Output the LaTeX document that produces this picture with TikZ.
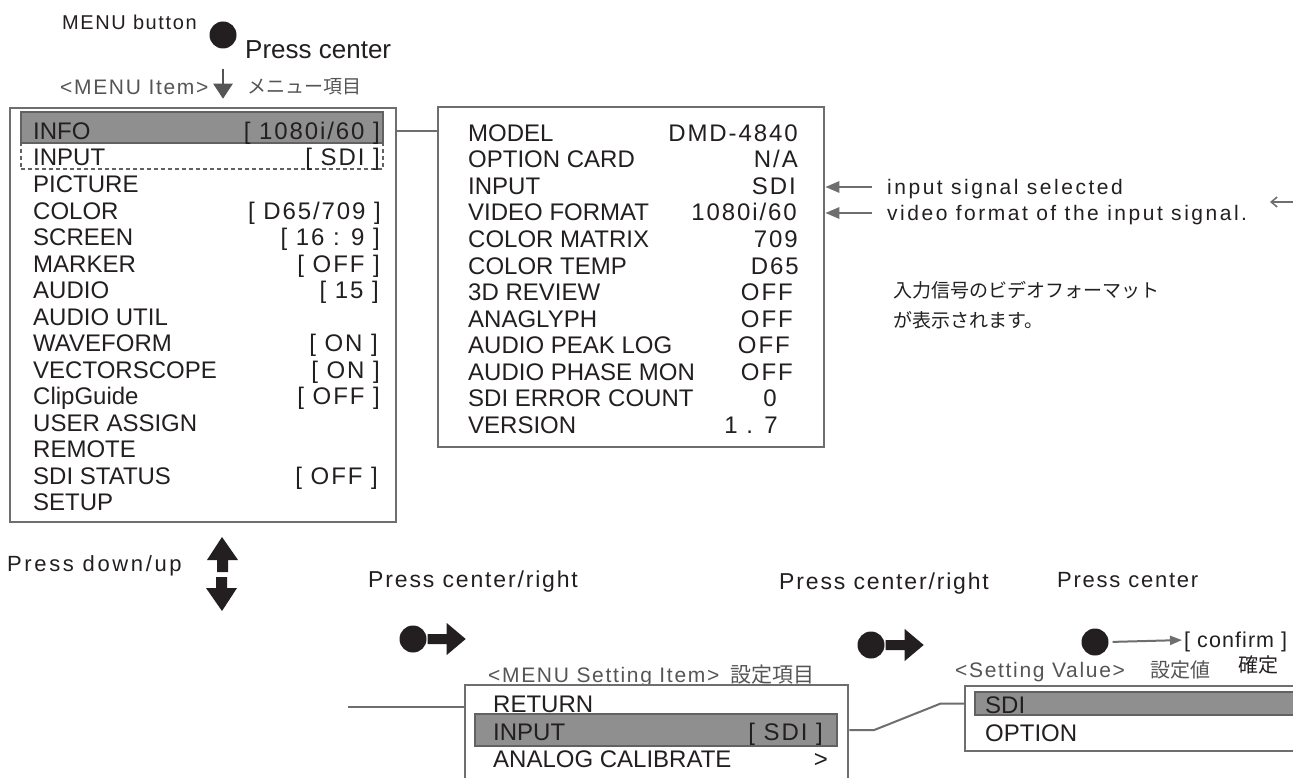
\documentclass[tikz,border=0pt]{standalone}
\usepackage{fontspec}
\setmainfont{Liberation Sans}
\newfontfamily\spaced{Liberation Sans}[LetterSpace=8]
\newfontfamily\snug{Liberation Sans}[LetterSpace=5]
\newfontfamily\wide{Liberation Sans}[LetterSpace=12]
\newfontfamily\cjk{Noto Sans CJK JP}
\usetikzlibrary{arrows.meta, positioning, calc}
\definecolor{ink}{HTML}{231F20}
\definecolor{frame}{HTML}{6E6E6E}
\definecolor{hifill}{HTML}{8F8F8F}
\definecolor{hiline}{HTML}{626262}
\definecolor{note}{HTML}{555555}
\tikzset{
  panel/.style={draw=frame, line width=2.5pt, fill=white, inner sep=0},
  hibar/.style={fill=hifill, draw=hiline, line width=1.5pt, inner sep=0},
  row/.style={anchor=west, inner sep=0, text=ink, font=\fontsize{24}{28}\selectfont, text height=17pt, text depth=0pt},
  val/.style={row, anchor=east, font=\spaced\fontsize{24}{28}\selectfont},
  lbl/.style={anchor=west, inner sep=0, text=ink, font=\spaced\fontsize{22}{26}\selectfont, text height=16pt, text depth=0pt},
  tag/.style={lbl, text=note, font=\spaced\fontsize{21}{25}\selectfont, text height=15pt},
  jp/.style={anchor=west, inner sep=0, text=ink, font=\cjk\fontsize{19}{23}\selectfont, text height=14pt, text depth=0pt},
  link/.style={draw=frame, line width=2pt},
  pointer/.style={draw=frame, line width=2.5pt, -{Triangle[length=14pt,width=11pt]}},
  knob/.style={circle, fill=ink, minimum size=27pt, inner sep=0},
}
\begin{document}
\begin{tikzpicture}[x=1pt,y=-1pt]
\clip (0,0) rectangle (1293,778);
\fill[white] (0,0) rectangle (1293,778);

\node[lbl, font=\spaced\fontsize{20}{24}\selectfont] (menubtn) at (62,22) {MENU button};
\node[knob] (k0) at (223,35) {};
\node[lbl, font=\fontsize{26}{30}\selectfont, text height=18pt] (k0txt) at (245,50) {Press center};
\node[tag] (itemtag) at (60,87) {<MENU Item>};
\node[jp, text=note] (itemjp) at (247,87) {メニュー項目};

\node[panel, minimum width=386pt, minimum height=414pt] (menu) at (203,315) {};
\draw[draw=note, fill=note, line width=2.5pt, -{Triangle[length=15pt,width=19pt]}, shorten <=20pt, shorten >=8pt] (k0.south) -- (k0.south |- menu.north);
\node[hibar, minimum width=362pt, minimum height=31pt] (hinfo) at (202,127.5) {};
\node[draw=hiline, line width=2pt, dash pattern=on 4pt off 3pt, minimum width=362pt, minimum height=26pt, inner sep=0] (dinput) at (202,156) {};

\node[row] (m1) at (33,131) {INFO};            \node[val] (v1) at (380,131) {[ 1080i/60 ]};
\node[row] (m2) at (33,157.5) {INPUT};         \node[val] (v2) at (380,157.5) {[ SDI ]};
\node[row] (m3) at (33,184) {PICTURE};
\node[row] (m4) at (33,210.5) {COLOR};         \node[val] (v4) at (381,210.5) {[ D65/709 ]};
\node[row] (m5) at (33,237) {SCREEN};          \node[val] (v5) at (380,237) {[ 16 : 9 ]};
\node[row] (m6) at (33,263.5) {MARKER};        \node[val] (v6) at (380,263.5) {[ OFF ]};
\node[row] (m7) at (33,290) {AUDIO};           \node[val] (v7) at (379,290) {[ 15 ]};
\node[row] (m8) at (33,316.5) {AUDIO UTIL};
\node[row] (m9) at (33,343) {WAVEFORM};        \node[val] (v9) at (378,343) {[ ON ]};
\node[row] (m10) at (33,369.5) {VECTORSCOPE};  \node[val] (v10) at (380,369.5) {[ ON ]};
\node[row] (m11) at (33,396) {ClipGuide};      \node[val] (v11) at (380,396) {[ OFF ]};
\node[row] (m12) at (33,422.5) {USER ASSIGN};
\node[row] (m13) at (33,449) {REMOTE};
\node[row] (m14) at (33,475.5) {SDI STATUS};   \node[val] (v14) at (378,475.5) {[ OFF ]};
\node[row] (m15) at (33,502) {SETUP};

\node[panel, minimum width=386pt, minimum height=340pt] (info) at (631,277) {};
\draw[link] (m1 -| menu.east) -- (m1 -| info.west);
\node[row] (i1) at (468,133) {MODEL};             \node[val] (w1) at (798,133) {DMD-4840};
\node[row] (i2) at (468,159.5) {OPTION CARD};     \node[val] (w2) at (798,159.5) {N/A};
\node[row] (i3) at (468,186) {INPUT};             \node[val] (w3) at (796,186) {SDI};
\node[row] (i4) at (468,212.5) {VIDEO FORMAT};    \node[val] (w4) at (797,212.5) {1080i/60};
\node[row] (i5) at (468,239) {COLOR MATRIX};      \node[val] (w5) at (798,239) {709};
\node[row] (i6) at (468,265.5) {COLOR TEMP};      \node[val] (w6) at (799,265.5) {D65};
\node[row] (i7) at (468,292) {3D REVIEW};         \node[val] (w7) at (793,292) {OFF};
\node[row] (i8) at (468,318.5) {ANAGLYPH};        \node[val] (w8) at (793,318.5) {OFF};
\node[row] (i9) at (468,345) {AUDIO PEAK LOG};    \node[val] (w9) at (790,345) {OFF};
\node[row] (i10) at (468,371.5) {AUDIO PHASE MON};\node[val] (w10) at (793,371.5) {OFF};
\node[row] (i11) at (468,398) {SDI ERROR COUNT};  \node[val] (w11) at (777,398) {0};
\node[row] (i12) at (468,424.5) {VERSION};        \node[val] (w12) at (778,424.5) {1 . 7};

\node[lbl, font=\wide\fontsize{21}{25}\selectfont, text height=15pt] (sigtxt) at (887,187) {input signal selected};
\node[lbl, font=\wide\fontsize{21}{25}\selectfont, text height=15pt] (fmttxt) at (887,213) {video format of the input signal.};
\draw[pointer] ([xshift=-15pt]sigtxt.west) -- (sigtxt.west -| info.east);
\draw[pointer] ([xshift=-15pt]fmttxt.west) -- (fmttxt.west -| info.east);
\coordinate (farfrom) at (1300,202);
\coordinate (farto) at (1270,202);
\draw[frame, line width=1.5pt, -{Straight Barb[length=6pt,width=10pt]}] (farfrom) -- (farto);
\node[jp] (jp1) at (893,290) {入力信号のビデオフォーマット};
\node[jp] (jp2) at (893,320) {が表示されます。};

\node[lbl, font=\wide\fontsize{22}{26}\selectfont] (updown) at (7,563) {Press down/up};
\fill[ink] (222,537) -- (238,560) -- (228,560) -- (228,572) -- (217,572) -- (217,560) -- (207,560) -- cycle;
\fill[ink] (222,611) -- (237,588) -- (227,588) -- (227,577) -- (216,577) -- (216,588) -- (206,588) -- cycle;

\node[lbl, font=\spaced\fontsize{23}{27}\selectfont, text height=16.5pt] (cr1) at (368,579) {Press center/right};
\node[lbl, font=\spaced\fontsize{23}{27}\selectfont, text height=16.5pt] (cr2) at (779,581) {Press center/right};
\node[lbl] (pc) at (1057,579) {Press center};

\node[knob] (k1) at (413,639) {};
\fill[ink] (k1.east) ++(1,-5) -- ++(19,0) -- ++(0,-11) -- ++(19,16) -- ++(-19,16) -- ++(0,-11) -- ++(-19,0) -- cycle;
\node[knob] (k2) at (871,645) {};
\fill[ink] (k2.east) ++(1,-5) -- ++(19,0) -- ++(0,-11) -- ++(19,16) -- ++(-19,16) -- ++(0,-11) -- ++(-19,0) -- cycle;
\node[knob] (k3) at (1095,642) {};
\node[lbl, font=\snug\fontsize{21.5}{25}\selectfont, text height=15.5pt] (conf) at (1184,640) {[ confirm ]};
\node[jp, font=\cjk\fontsize{20}{24}\selectfont] (confjp) at (1238,665) {確定};
\draw[draw=frame, fill=frame, line width=2pt, -{Triangle[length=12pt,width=9pt]}, shorten <=4pt, shorten >=2pt] (k3.east) -- (conf.west);

\node[tag] (settag) at (488,675) {<MENU Setting Item>};
\node[jp, text=note, font=\cjk\fontsize{21}{25}\selectfont] (setjp) at (730,675) {設定項目};
\node[tag] (valtag) at (955,670) {<Setting Value>};
\node[jp, text=note, font=\cjk\fontsize{20}{24}\selectfont] (valjp) at (1150,670) {設定値};

\node[panel, minimum width=383pt, minimum height=115pt] (setbox) at (656.5,742.5) {};
\node[hibar, minimum width=362pt, minimum height=32pt] (hset) at (656,730) {};
\node[row] (s1) at (493,704) {RETURN};
\node[row] (s2) at (493,731.5) {INPUT};            \node[val] (t2) at (823,731.5) {[ SDI ]};
\node[row] (s3) at (493,759) {ANALOG CALIBRATE};   \node[val] (t3) at (828,759) {>};
\coordinate (stub) at (348,707);
\draw[link] (stub) -- (stub -| setbox.west);

\node[panel, minimum width=345pt, minimum height=65pt] (valbox) at (1137.5,718.5) {};
\node[hibar, minimum width=335pt, minimum height=23pt] (hsdi) at (1142.5,703.5) {};
\node[row] (o1) at (985,705) {SDI};
\node[row] (o2) at (985,732.5) {OPTION};
\draw[link] (hset -| setbox.east) -- ++(25,0) -- ([xshift=-23pt]hsdi.west -| valbox.west) -- (hsdi.west -| valbox.west);
\end{tikzpicture}
\end{document}
